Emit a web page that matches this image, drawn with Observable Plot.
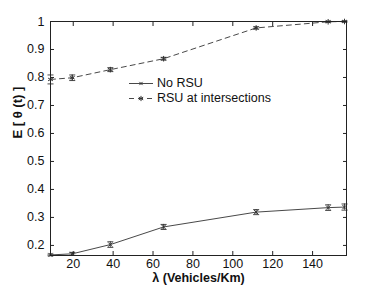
<!DOCTYPE html>
<html><head><meta charset="utf-8">
<script src="https://cdn.jsdelivr.net/npm/d3@7"></script>
<script src="https://cdn.jsdelivr.net/npm/@observablehq/plot@0.6"></script>
<style>
html,body{margin:0;padding:0;background:#fff;}
#wrap{position:relative;width:382px;height:288px;font-family:"Liberation Sans",Arial,sans-serif;}
#legend{position:absolute;left:129px;top:76px;font-size:12.5px;color:#111;line-height:15px;}
#legend .row{display:flex;align-items:center;height:15px;}
#legend svg{margin-right:4px;}
</style></head>
<body><div id="wrap"><div id="legend"></div></div>
<script>
const lambda = [8.6, 19.5, 38.6, 65.3, 111.7, 147.8, 156];
const noRSU = [0.166, 0.170, 0.203, 0.266, 0.319, 0.335, 0.337];
const noRSUErr = [0.003, 0.005, 0.010, 0.009, 0.009, 0.010, 0.011];
const rsuInt = [0.793, 0.799, 0.828, 0.867, 0.977, 0.999, 1.0];
const rsuIntErr = [0.016, 0.010, 0.007, 0.005, 0.004, 0.002, 0.002];
const xTicks = [20, 40, 60, 80, 100, 120, 140];
const yTicks = [0.2, 0.3, 0.4, 0.5, 0.6, 0.7, 0.8, 0.9, 1];
const seriesNames = ["No RSU", "RSU at intersections"];

const rows = [];
lambda.forEach((x, i) => {
  rows.push({x, y: noRSU[i], e: noRSUErr[i], s: seriesNames[0]});
  rows.push({x, y: rsuInt[i], e: rsuIntErr[i], s: seriesNames[1]});
});
const A = rows.filter(d => d.s === seriesNames[0]);
const B = rows.filter(d => d.s === seriesNames[1]);
const hline = {draw(ctx, size){ const w = Math.sqrt(size / Math.PI); ctx.moveTo(-w, 0); ctx.lineTo(w, 0); }};
const col = "#333";

const plot = Plot.plot({
  width: 382, height: 288,
  marginLeft: 50, marginRight: 36, marginTop: 21, marginBottom: 33,
  style: {fontFamily: "Liberation Sans, Arial, sans-serif", fontSize: "12px", color: "#111", background: "transparent"},
  x: {domain: [8.6, 157]},
  y: {domain: [0.164, 1.0]},
  marks: [
    Plot.line(A, {x: "x", y: "y", stroke: col, strokeWidth: 0.9}),
    Plot.line(B, {x: "x", y: "y", stroke: col, strokeWidth: 0.9, strokeDasharray: "5,4"}),
    Plot.ruleX(rows, {x: "x", y1: d => d.y - d.e, y2: d => d.y + d.e, stroke: col, strokeWidth: 0.9}),
    Plot.dot(rows, {x: "x", y: d => d.y - d.e, symbol: hline, r: 3, stroke: col, strokeWidth: 0.9}),
    Plot.dot(rows, {x: "x", y: d => d.y + d.e, symbol: hline, r: 3, stroke: col, strokeWidth: 0.9}),
    Plot.dot(A, {x: "x", y: "y", symbol: "times", r: 2, stroke: col, strokeWidth: 1}),
    Plot.dot(B, {x: "x", y: "y", symbol: "asterisk", r: 2.6, stroke: col, strokeWidth: 1}),
    Plot.frame({stroke: "#222", strokeWidth: 1}),
    Plot.axisX(xTicks, {anchor: "bottom", tickSize: -4, tickPadding: 8, label: null, fontSize: 12.5, stroke: "#222"}),
    Plot.axisX(xTicks, {anchor: "top", tickSize: -4, text: null, label: null, stroke: "#222"}),
    Plot.axisY(yTicks, {anchor: "left", tickSize: -4, tickPadding: 10, label: null, fontSize: 12.5, stroke: "#222", tickFormat: d => d === 1 ? "1" : d3.format(".1f")(d)}),
    Plot.axisY(yTicks, {anchor: "right", tickSize: -4, text: null, label: null, stroke: "#222"}),
    Plot.text(["λ (Vehicles/Km)"], {frameAnchor: "bottom", dy: 26, fontWeight: "bold", fontSize: 12.5, fill: "#111"}),
    Plot.text(["E [ θ (t) ]"], {frameAnchor: "left", dx: -33, rotate: -90, fontWeight: "bold", fontSize: 13, fill: "#111"})
  ]
});
document.getElementById("wrap").appendChild(plot);

const leg = document.getElementById("legend");
seriesNames.forEach((name, i) => {
  const row = document.createElement("div");
  row.className = "row";
  const ns = "http://www.w3.org/2000/svg";
  const svg = document.createElementNS(ns, "svg");
  svg.setAttribute("width", 24); svg.setAttribute("height", 15);
  const ln = document.createElementNS(ns, "line");
  ln.setAttribute("x1", 0); ln.setAttribute("x2", 24); ln.setAttribute("y1", 7.5); ln.setAttribute("y2", 7.5);
  ln.setAttribute("stroke", col); ln.setAttribute("stroke-width", 0.9);
  if (i === 1) ln.setAttribute("stroke-dasharray", "5,4");
  svg.appendChild(ln);
  const mk = document.createElementNS(ns, "path");
  mk.setAttribute("transform", "translate(12,7.5)");
  mk.setAttribute("d", i === 0 ? "M-1.6,-1.6L1.6,1.6M1.6,-1.6L-1.6,1.6" : "M0,-2.6V2.6M-2.2,-1.3L2.2,1.3M2.2,-1.3L-2.2,1.3");
  mk.setAttribute("stroke", col); mk.setAttribute("stroke-width", 1);
  svg.appendChild(mk);
  row.appendChild(svg);
  const t = document.createElement("span"); t.textContent = name;
  row.appendChild(t);
  leg.appendChild(row);
});
</script></body></html>
